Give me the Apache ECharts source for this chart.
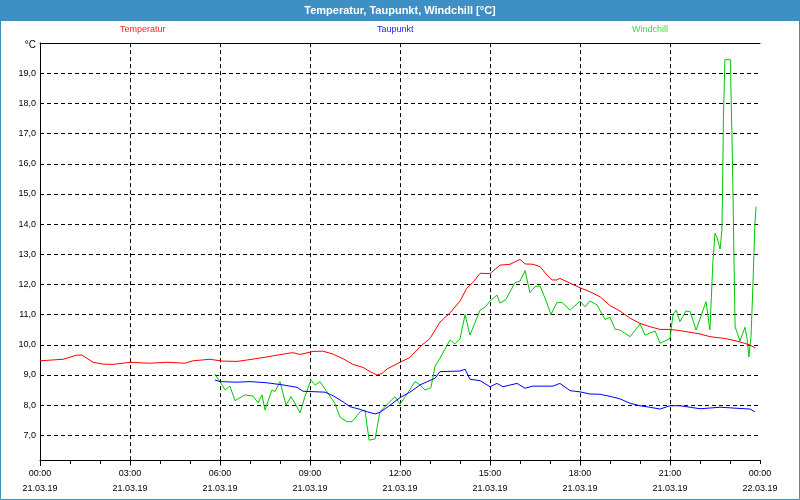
<!DOCTYPE html>
<html>
<head>
<meta charset="utf-8">
<script src="https://cdn.jsdelivr.net/npm/echarts@6/dist/echarts.min.js"></script>
<style>
html,body{margin:0;padding:0;background:#fff;}
#chart{width:800px;height:500px;}
</style>
</head>
<body>
<div id="chart"></div>
<script>
// Temperatur (hours since 21.03.19 00:00, °C)
const tempT = [0,0.77,1.23,1.4,1.77,2.1,2.43,3,3.67,4.23,4.83,5.1,5.67,6.07,6.57,7,7.57,8.1,8.43,8.67,9.1,9.43,9.77,10.1,10.43,10.77,11,11.23,11.4,11.57,12,12.33,12.67,13,13.33,13.67,14,14.23,14.43,14.67,15,15.33,15.67,16,16.17,16.43,16.67,16.9,17.07,17.23,17.33,17.57,18,18.33,18.67,19,19.33,19.67,20,20.33,20.67,21,21.33,22,22.33,22.83,23.33,23.67,23.83];
const tempV = [9.47,9.52,9.66,9.66,9.42,9.36,9.35,9.42,9.39,9.42,9.39,9.47,9.52,9.46,9.45,9.51,9.6,9.69,9.74,9.68,9.78,9.79,9.69,9.54,9.35,9.25,9.11,9.0,9.05,9.2,9.42,9.58,9.94,10.21,10.75,11.06,11.45,11.88,12.07,12.37,12.36,12.64,12.67,12.83,12.68,12.67,12.59,12.31,12.15,12.15,12.2,12.09,11.89,11.76,11.59,11.3,11.12,10.88,10.71,10.6,10.51,10.51,10.47,10.36,10.27,10.21,10.1,9.99,9.9];
// Taupunkt
const dewT = [5.83,6,6.57,7,7.57,8.1,8.57,8.77,9.5,9.77,10.1,10.33,10.67,10.9,11.17,11.33,11.67,12,12.33,12.67,13,13.17,13.33,14,14.17,14.33,14.67,15,15.23,15.43,15.9,16.17,16.43,17.1,17.33,17.67,18,18.33,18.67,19,19.33,19.67,20,20.33,20.67,21,21.33,21.67,22,22.67,23.33,23.67,23.83];
const dewV = [8.83,8.78,8.76,8.78,8.74,8.67,8.59,8.46,8.43,8.31,8.11,7.95,7.86,7.78,7.71,7.76,8.0,8.25,8.43,8.67,8.82,8.89,9.11,9.13,9.19,8.86,8.81,8.61,8.72,8.61,8.72,8.56,8.63,8.63,8.72,8.48,8.44,8.37,8.36,8.29,8.21,8.06,7.98,7.93,7.87,7.98,7.98,7.93,7.88,7.93,7.89,7.87,7.78];
// Windchill
const wcT = [5.83,6,6.17,6.33,6.5,6.83,7.1,7.27,7.4,7.5,7.73,7.83,8,8.2,8.37,8.67,8.83,9.03,9.17,9.33,9.6,9.83,10,10.23,10.4,10.67,10.83,10.97,11.17,11.33,11.83,12,12.27,12.5,12.67,12.83,13.03,13.17,13.33,13.57,13.67,13.83,14,14.17,14.33,14.67,14.83,15,15.23,15.33,15.53,15.83,16,16.17,16.33,16.5,16.67,16.9,17.03,17.23,17.4,17.67,18,18.17,18.33,18.57,18.83,19,19.17,19.33,19.67,20,20.17,20.5,20.67,21,21.1,21.2,21.33,21.53,21.67,21.87,22.2,22.33,22.43,22.5,22.57,22.67,22.73,22.75,22.78,22.83,23.02,23.03,23.07,23.1,23.13,23.17,23.33,23.5,23.57,23.63,23.7,23.73,23.77,23.8,23.83,23.87];
const wcV = [9.03,8.78,8.5,8.63,8.15,8.34,8.3,8.08,8.34,7.84,8.5,8.45,8.78,8.0,8.28,7.75,8.28,8.83,8.67,8.78,8.39,8.06,7.6,7.45,7.45,7.78,7.84,6.84,6.88,7.78,8.28,8.03,8.42,8.78,8.67,8.5,8.58,9.3,9.55,9.99,10.16,10.03,10.2,11.0,10.32,11.15,11.24,11.45,11.65,11.38,11.5,12.06,12.11,12.46,11.73,11.93,11.95,11.38,11.0,11.4,11.4,11.15,11.45,11.26,11.45,11.32,10.84,10.91,10.52,10.49,10.27,10.69,10.32,10.46,10.05,10.21,11.0,11.15,10.77,11.12,11.1,10.49,11.43,10.49,12.75,13.7,13.55,13.17,13.8,15.0,17.5,19.45,19.45,18.55,16.7,14.96,13.03,10.6,10.13,10.58,10.21,9.6,10.27,11.04,12.15,13.09,14.03,14.58];

const seriesNames = ['Temperatur','Taupunkt','Windchill'];
const lineColors = ['#ff0000','#0000ff','#00c800'];
const legendColors = ['#ff2020','#2020ff','#40d840'];
const dateLabels = ['21.03.19','22.03.19'];

const FONT = 'Liberation Sans, Arial, sans-serif';
const pair = (ts, vs) => ts.map((t, i) => [t, vs[i]]);
const pad = n => (n < 10 ? '0' : '') + n;

const chart = echarts.init(document.getElementById('chart'), null, {renderer: 'canvas'});
chart.setOption({
  animation: false,
  backgroundColor: '#ffffff',
  graphic: [
    {type: 'rect', z: 0, shape: {x: 0, y: 0, width: 800, height: 21}, style: {fill: '#3d8fc4'}},
    {type: 'rect', z: 0, shape: {x: 0.5, y: 0.5, width: 799, height: 499}, style: {fill: 'none', stroke: '#3d8fc4', lineWidth: 1}}
  ],
  title: {
    text: 'Temperatur, Taupunkt, Windchill [°C]',
    left: 'center', top: 3, padding: 0, z: 10,
    textStyle: {color: '#ffffff', fontFamily: FONT, fontSize: 11, fontWeight: 'bold', lineHeight: 15}
  },
  legend: [
    {data: [seriesNames[0]], left: 115, top: 25},
    {data: [seriesNames[1]], left: 372, top: 25},
    {data: [seriesNames[2]], left: 627, top: 25}
  ].map((l, i) => Object.assign(l, {
    padding: 0, itemWidth: 0, itemHeight: 0, icon: 'rect', selectedMode: true,
    textStyle: {color: legendColors[i], fontFamily: FONT, fontSize: 9, padding: 0}
  })),
  grid: {left: 40, right: 40, top: 43.13, bottom: 34.53, outerBoundsMode: 'none', containLabel: false},
  xAxis: [
    {
      type: 'value', min: 0, max: 24, interval: 3, offset: -5.47,
      axisLine: {show: true, lineStyle: {color: '#000', width: 1}},
      axisTick: {show: true, length: 4, lineStyle: {color: '#000'}},
      minorTick: {show: true, splitNumber: 3, length: 4, lineStyle: {color: '#000'}},
      splitLine: {show: true, showMinLine: false, showMaxLine: false, lineStyle: {color: '#000', type: [4, 3], width: 1}},
      axisLabel: {
        margin: 6, color: '#000', fontFamily: FONT, fontSize: 9, lineHeight: 15,
        showMinLabel: true, showMaxLabel: true,
        formatter: v => pad(v % 24) + ':00\n' + dateLabels[v >= 24 ? 1 : 0]
      }
    },
    {
      type: 'value', position: 'top', min: 0, max: 24,
      axisLine: {show: true, lineStyle: {color: '#000', width: 1}},
      axisTick: {show: false}, axisLabel: {show: false}, splitLine: {show: false}
    }
  ],
  yAxis: [
    {
      type: 'value', min: 6, max: 20, interval: 1,
      name: '°C', nameLocation: 'end', nameGap: -2,
      nameTextStyle: {color: '#000', fontFamily: FONT, fontSize: 10, align: 'right', verticalAlign: 'middle', padding: [0, 4, 0, 0]},
      axisLine: {show: true, lineStyle: {color: '#000', width: 1}},
      axisTick: {show: false},
      splitLine: {show: true, showMinLine: false, showMaxLine: false, lineStyle: {color: '#000', type: [4, 3], width: 1}},
      axisLabel: {
        margin: 4, color: '#000', fontFamily: FONT, fontSize: 9,
        showMinLabel: false, showMaxLabel: false,
        formatter: v => v.toFixed(1).replace('.', ',')
      }
    },
    {
      type: 'value', position: 'right', min: 6, max: 20, interval: 1,
      axisLine: {show: true, lineStyle: {color: '#000', width: 1}},
      axisTick: {show: false}, axisLabel: {show: false}, splitLine: {show: false}
    }
  ],
  series: [
    {name: seriesNames[0], type: 'line', data: pair(tempT, tempV)},
    {name: seriesNames[1], type: 'line', data: pair(dewT, dewV)},
    {name: seriesNames[2], type: 'line', data: pair(wcT, wcV)}
  ].map((s, i) => Object.assign(s, {
    xAxisIndex: 0, yAxisIndex: 0, showSymbol: false, symbol: 'none',
    color: lineColors[i], lineStyle: {color: lineColors[i], width: 1}, z: 3 + (2 - i)
  }))
});
</script>
</body>
</html>
